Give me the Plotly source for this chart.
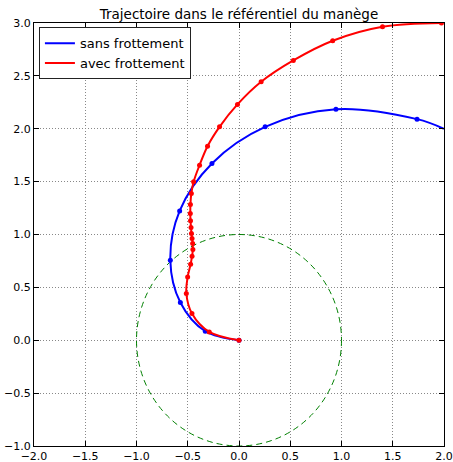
import plotly.graph_objects as go

title = "Trajectoire dans le référentiel du manège"

# Blue: without friction (markers)
blue_mx = [0.0, -0.329, -0.572, -0.670, -0.579, -0.264, 0.255, 0.946, 1.737]
blue_my = [0.0, 0.085, 0.357, 0.757, 1.223, 1.672, 2.018, 2.185, 2.091]
# Blue curve points (markers + exit point at the right edge)
blue_lx = blue_mx + [2.0]
blue_ly = blue_my + [2.0]

# Red: with friction
red_mx = [0.0, -0.290, -0.459, -0.514, -0.501, -0.472, -0.458, -0.450, -0.452,
          -0.458, -0.464, -0.468, -0.473, -0.475, -0.474, -0.465, -0.443,
          -0.385, -0.307, -0.190, -0.015, 0.216, 0.530, 0.914, 1.400, 1.975]
red_my = [0.0, 0.079, 0.253, 0.442, 0.599, 0.719, 0.795, 0.858, 0.915,
          0.962, 1.009, 1.066, 1.129, 1.199, 1.284, 1.388, 1.498,
          1.656, 1.835, 2.018, 2.230, 2.444, 2.646, 2.832, 2.964, 3.000]
red_lx = red_mx
red_ly = red_my

# Reference circle
circle_center = (0.0, 0.0)
circle_radius = 1.0

tick_vals = [-2.0, -1.5, -1.0, -0.5, 0.0, 0.5, 1.0, 1.5, 2.0, 2.5, 3.0]

BLUE = "#0000ff"
RED = "#ff0000"
GREEN = "#008000"
FONT = "DejaVu Sans"

fig = go.Figure()
fig.add_trace(go.Scatter(x=blue_lx, y=blue_ly, mode="lines", name="sans frottement",
                         line=dict(color=BLUE, width=2, shape="spline", smoothing=1.0)))
fig.add_trace(go.Scatter(x=blue_mx, y=blue_my, mode="markers", showlegend=False,
                         marker=dict(color=BLUE, size=5, line=dict(width=0))))
fig.add_trace(go.Scatter(x=red_lx, y=red_ly, mode="lines", name="avec frottement",
                         line=dict(color=RED, width=2, shape="spline", smoothing=1.0)))
fig.add_trace(go.Scatter(x=red_mx, y=red_my, mode="markers", showlegend=False,
                         marker=dict(color=RED, size=5, line=dict(width=0))))

fig.add_shape(type="circle", xref="x", yref="y",
              x0=circle_center[0] - circle_radius, x1=circle_center[0] + circle_radius,
              y0=circle_center[1] - circle_radius, y1=circle_center[1] + circle_radius,
              line=dict(color=GREEN, width=1, dash="6px,4px"), layer="between")

axis_common = dict(
    showline=True, linecolor="black", linewidth=1, mirror="ticks",
    ticks="inside", ticklen=5, tickcolor="black", tickwidth=1,
    showgrid=True, gridcolor="#888888", gridwidth=1, griddash="1px,2px",
    zeroline=False, tickformat=".1f", automargin=False,
    tickfont=dict(family=FONT, size=11, color="black"),
    tickvals=tick_vals,
)

fig.update_layout(
    width=453, height=462,
    template="none",
    paper_bgcolor="white", plot_bgcolor="white",
    margin=dict(l=34, r=9, t=23, b=16),
    title=dict(text=title, x=0.5, xref="paper", xanchor="center",
               y=1, yref="paper", yanchor="bottom", pad=dict(b=4),
               font=dict(family=FONT, size=13.5, color="black")),
    xaxis=dict(range=[-2, 2], **axis_common),
    yaxis=dict(range=[-1, 3], **axis_common),
    legend=dict(x=0.012, y=0.99, xanchor="left", yanchor="top",
                bgcolor="white", bordercolor="#222222", borderwidth=1,
                font=dict(family=FONT, size=13, color="black"),
                tracegroupgap=0, itemwidth=30),
    showlegend=True,
)

fig.write_html("out.html",
               config={"displayModeBar": False},
               post_script="document.body.style.margin='0';document.body.style.padding='0';")
